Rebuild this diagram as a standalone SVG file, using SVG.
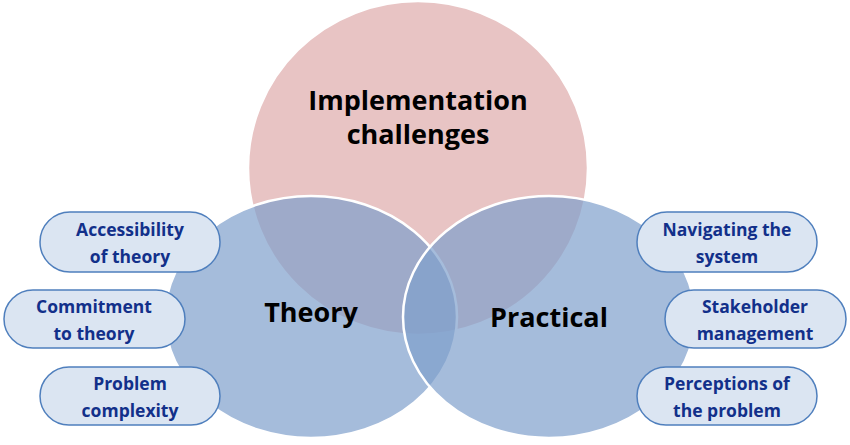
<svg xmlns="http://www.w3.org/2000/svg" width="850" height="445" viewBox="0 0 850 445">
<style>
.c{stroke:#fff;stroke-width:2.5}
.p{fill:#dbe5f2;stroke:#4f7fbd;stroke-width:1.5}
.pt{font-family:"Open Sans","Liberation Sans",sans-serif;font-weight:bold;font-size:17.5px;fill:#12308a;text-anchor:middle}
.big{font-family:"Open Sans","Liberation Sans",sans-serif;font-weight:bold;font-size:27px;fill:#000;text-anchor:middle}
</style>
<rect width="850" height="445" fill="#fff"/>
<g id="implementation"><ellipse cx="418" cy="168" rx="170" ry="167" fill="#e8c4c4" class="c"/></g>
<g id="theory"><ellipse cx="311" cy="317" rx="146" ry="121" fill="#7f9fcc" fill-opacity="0.7" class="c"/></g>
<g id="practical"><ellipse cx="549" cy="317" rx="146" ry="121" fill="#7f9fcc" fill-opacity="0.7" class="c"/></g>
<text class="big" x="418" y="110">Implementation</text>
<text class="big" x="418" y="144">challenges</text>
<text class="big" x="311" y="322">Theory</text>
<text class="big" x="549" y="327">Practical</text>
<g id="connectors"></g>
<g id="p1"><rect class="p" x="40" y="212" width="180" height="60" rx="30"/><text class="pt" x="130" y="236">Accessibility</text><text class="pt" x="130" y="263">of theory</text></g>
<g id="p2"><rect class="p" x="4" y="290" width="181" height="58" rx="29"/><text class="pt" x="94" y="313">Commitment</text><text class="pt" x="94" y="340">to theory</text></g>
<g id="p3"><rect class="p" x="40" y="367" width="180" height="58" rx="29"/><text class="pt" x="130" y="390">Problem</text><text class="pt" x="130" y="417">complexity</text></g>
<g id="p4"><rect class="p" x="637" y="212" width="180" height="60" rx="30"/><text class="pt" x="727" y="236">Navigating the</text><text class="pt" x="727" y="263">system</text></g>
<g id="p5"><rect class="p" x="665" y="290" width="181" height="58" rx="29"/><text class="pt" x="755" y="313">Stakeholder</text><text class="pt" x="755" y="340">management</text></g>
<g id="p6"><rect class="p" x="637" y="367" width="180" height="58" rx="29"/><text class="pt" x="727" y="390">Perceptions of</text><text class="pt" x="727" y="417">the problem</text></g>
</svg>
